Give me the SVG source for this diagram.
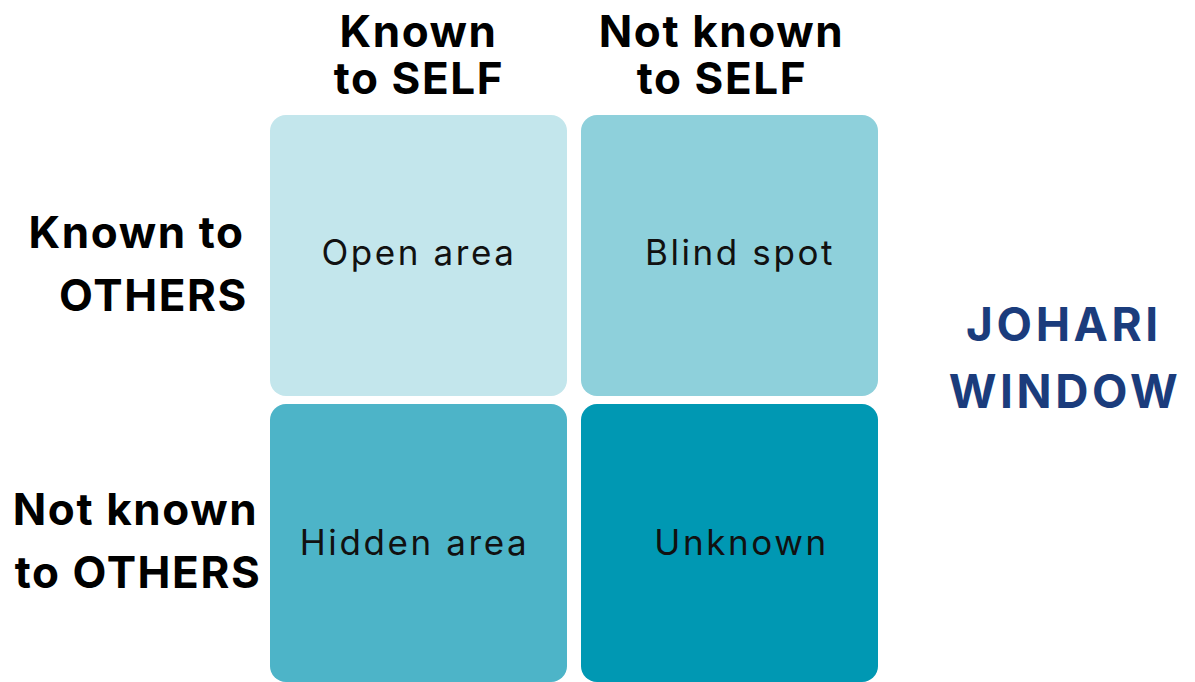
<svg xmlns="http://www.w3.org/2000/svg" width="1195" height="682" viewBox="0 0 1195 682">
<style>
.hdr{font-family:Inter,"Liberation Sans",sans-serif;font-weight:700;font-size:44px;letter-spacing:1.6px;fill:#000;text-anchor:middle}
.cell{font-family:Inter,"Liberation Sans",sans-serif;font-weight:400;font-size:35px;letter-spacing:2.6px;fill:#111;text-anchor:middle}
.title{font-family:Inter,"Liberation Sans",sans-serif;font-weight:700;font-size:46px;letter-spacing:3.6px;fill:#1b3c7c;text-anchor:middle}
</style>
<rect width="1195" height="682" fill="#fff"/>
<g id="col-known"><text class="hdr" x="418.5" y="47">Known</text><text class="hdr" x="419" y="94">to SELF</text></g>
<g id="col-notknown"><text class="hdr" x="721.5" y="47">Not known</text><text class="hdr" x="722" y="94">to SELF</text></g>
<g id="row-known"><text class="hdr" x="136.5" y="248">Known to</text><text class="hdr" x="153.5" y="311">OTHERS</text></g>
<g id="row-notknown"><text class="hdr" x="135.5" y="525">Not known</text><text class="hdr" x="138" y="588">to OTHERS</text></g>
<g id="open"><rect x="270" y="115" width="297" height="281" rx="16" fill="#c3e6ec"/><text class="cell" x="419" y="265">Open area</text></g>
<g id="blind"><rect x="581" y="115" width="297" height="281" rx="16" fill="#8ed0db"/><text class="cell" x="740" y="265">Blind spot</text></g>
<g id="hidden"><rect x="270" y="404" width="297" height="278" rx="16" fill="#4db4c8"/><text class="cell" x="414.5" y="555">Hidden area</text></g>
<g id="unknown"><rect x="581" y="404" width="297" height="278" rx="16" fill="#0098b3"/><text class="cell" x="741.5" y="555">Unknown</text></g>
<g id="title"><text class="title" x="1064" y="341">JOHARI</text><text class="title" x="1065" y="408">WINDOW</text></g>
<g id="connectors"/>
</svg>
